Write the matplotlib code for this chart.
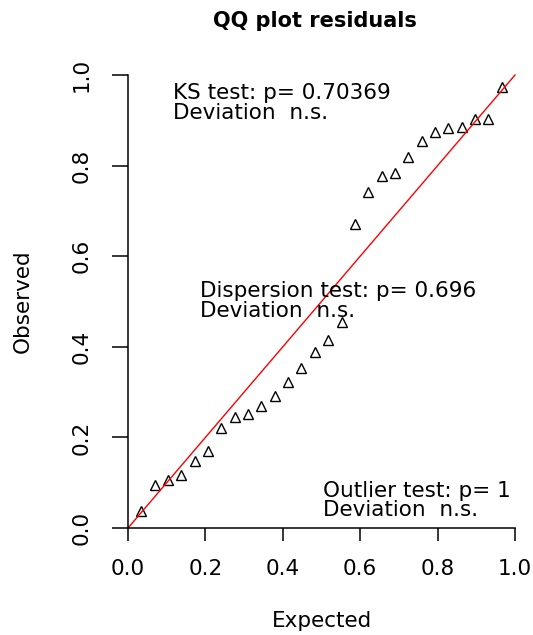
import numpy as np
import matplotlib
matplotlib.use('Agg')
import matplotlib.pyplot as plt

# observed residual quantiles
n_obs = 28
observed = [0.037, 0.096, 0.106, 0.116, 0.149, 0.169, 0.220, 0.246, 0.252, 0.269,
            0.292, 0.322, 0.354, 0.389, 0.416, 0.454, 0.672, 0.742, 0.777, 0.783,
            0.818, 0.854, 0.875, 0.882, 0.886, 0.903, 0.903, 0.974]
expected = np.arange(1, n_obs + 1) / (n_obs + 1)

ticks = [0.0, 0.2, 0.4, 0.6, 0.8, 1.0]
tick_labels = ['0.0', '0.2', '0.4', '0.6', '0.8', '1.0']

ks_text = 'KS test: p= 0.70369\nDeviation  n.s.'
disp_text = 'Dispersion test: p= 0.696\nDeviation  n.s.'
out_text = 'Outlier test: p= 1\nDeviation  n.s.'

plt.rcParams['font.family'] = ['DejaVu Sans']

fig = plt.figure(figsize=(5.33, 6.35), dpi=100)
ax = fig.add_axes([128 / 533, 107 / 635, 387 / 533, 453 / 635])
ax.set_xlim(0, 1)
ax.set_ylim(0, 1)

ax.plot(expected, observed, linestyle='none', marker='^', markersize=7,
        markerfacecolor='none', markeredgecolor='black', markeredgewidth=1, clip_on=False)
ax.axline((0, 0), slope=1, color='red', linewidth=1, clip_on=False)

ax.spines['top'].set_visible(False)
ax.spines['right'].set_visible(False)
ax.spines['left'].set_linewidth(1.1)
ax.spines['bottom'].set_linewidth(1.1)

ax.set_xticks(ticks)
ax.set_xticklabels(tick_labels)
ax.set_yticks(ticks)
ax.set_yticklabels(tick_labels, rotation=90, va='center')
ax.tick_params(axis='x', length=9.5, width=1.1, pad=13, labelsize=15.5)
ax.tick_params(axis='y', length=11.5, width=1.1, pad=15, labelsize=15.5)

ax.set_xlabel('Expected', fontsize=15.5, labelpad=23)
ax.set_ylabel('Observed', fontsize=15.5, labelpad=28)
fig.suptitle('QQ plot residuals', fontsize=15, fontweight='bold', x=0.59, y=0.983, va='top')

ax.text(0.115, 0.938, ks_text, fontsize=15.5, ha='left', va='center', linespacing=0.95)
ax.text(0.186, 0.501, disp_text, fontsize=15.5, ha='left', va='center', linespacing=0.95)
ax.text(0.505, 0.061, out_text, fontsize=15.5, ha='left', va='center', linespacing=0.95)

fig.savefig('out.png', dpi=100)
